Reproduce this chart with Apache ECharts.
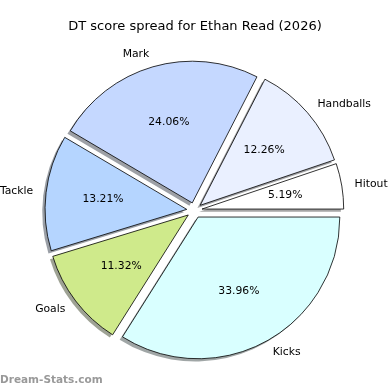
<!DOCTYPE html>
<html><head><meta charset="utf-8">
<script src="https://cdn.jsdelivr.net/npm/echarts@6/dist/echarts.min.js"></script>
<style>html,body{margin:0;padding:0;background:#fff}#c{width:390px;height:390px}</style>
</head><body><div id="c"></div>
<script>
const categories = ['Hitout', 'Handballs', 'Mark', 'Tackle', 'Goals', 'Kicks'];
const values = [11, 26, 51, 28, 24, 72];
const colors = ['#ffffff', '#eaf0ff', '#c5d8ff', '#b5d5ff', '#cfea8b', '#d9ffff'];
const titleText = 'DT score spread for Ethan Read (2026)';
const watermark = 'Dream-Stats.com';

const cx = 194.4, cy = 210.3, R = 141.7, off = 7.7, sh = 2.8;
const font = 'DejaVu Sans';

function shadowOf(hex) {
  const n = parseInt(hex.slice(1), 16);
  const r = (n >> 16) & 255, g = (n >> 8) & 255, b = n & 255;
  return 'rgba(' + Math.round(r * 0.3) + ',' + Math.round(g * 0.3) + ',' + Math.round(b * 0.3) + ',0.5)';
}

const base = {
  type: 'pie', startAngle: 0, clockwise: false, animation: false,
  selectedMode: 'multiple', selectedOffset: off, avoidLabelOverlap: false,
  emphasis: { disabled: true }, silent: true
};

const chart = echarts.init(document.getElementById('c'), null, { renderer: 'canvas' });
chart.setOption({
  animation: false,
  title: {
    text: titleText, left: 'center', top: 20, padding: 0,
    textStyle: { fontFamily: font, fontSize: 13, fontWeight: 'normal', color: '#000' }
  },
  graphic: [{
    type: 'text', left: 0, bottom: 4,
    style: { text: watermark, fontFamily: font, fontSize: 10.5, fontWeight: 'bold', fill: '#999999' }
  }],
  series: [
    Object.assign({}, base, {
      center: [cx - sh, cy + sh], radius: [0, R], z: 1,
      label: { show: false }, labelLine: { show: false },
      data: categories.map((n, i) => ({ name: n, value: values[i], selected: true,
        itemStyle: { color: shadowOf(colors[i]), borderWidth: 0 } }))
    }),
    Object.assign({}, base, {
      center: [cx, cy], radius: [0, R], z: 2,
      label: { show: true, position: 'outside', formatter: '{b}', fontFamily: font, fontSize: 10.8,
        color: '#000', distanceToLabelLine: 0, padding: [6, 0, 0, 0] },
      labelLine: { show: false, length: 0.1 * R - 1.2, length2: 0 },
      data: categories.map((n, i) => ({ name: n, value: values[i], selected: true,
        itemStyle: { color: colors[i], borderColor: '#000', borderWidth: 0.8 } }))
    }),
    Object.assign({}, base, {
      center: [cx, cy], radius: [0.2 * R - 7.3, R], z: 3,
      label: { show: true, position: 'inside', formatter: '{d}%', fontFamily: font, fontSize: 10.8,
        color: '#000', padding: [4.4, 0, 0, 0] },
      labelLine: { show: false },
      data: categories.map((n, i) => ({ name: n, value: values[i], selected: true,
        itemStyle: { color: 'rgba(0,0,0,0)', borderWidth: 0 } }))
    })
  ]
});
</script></body></html>
